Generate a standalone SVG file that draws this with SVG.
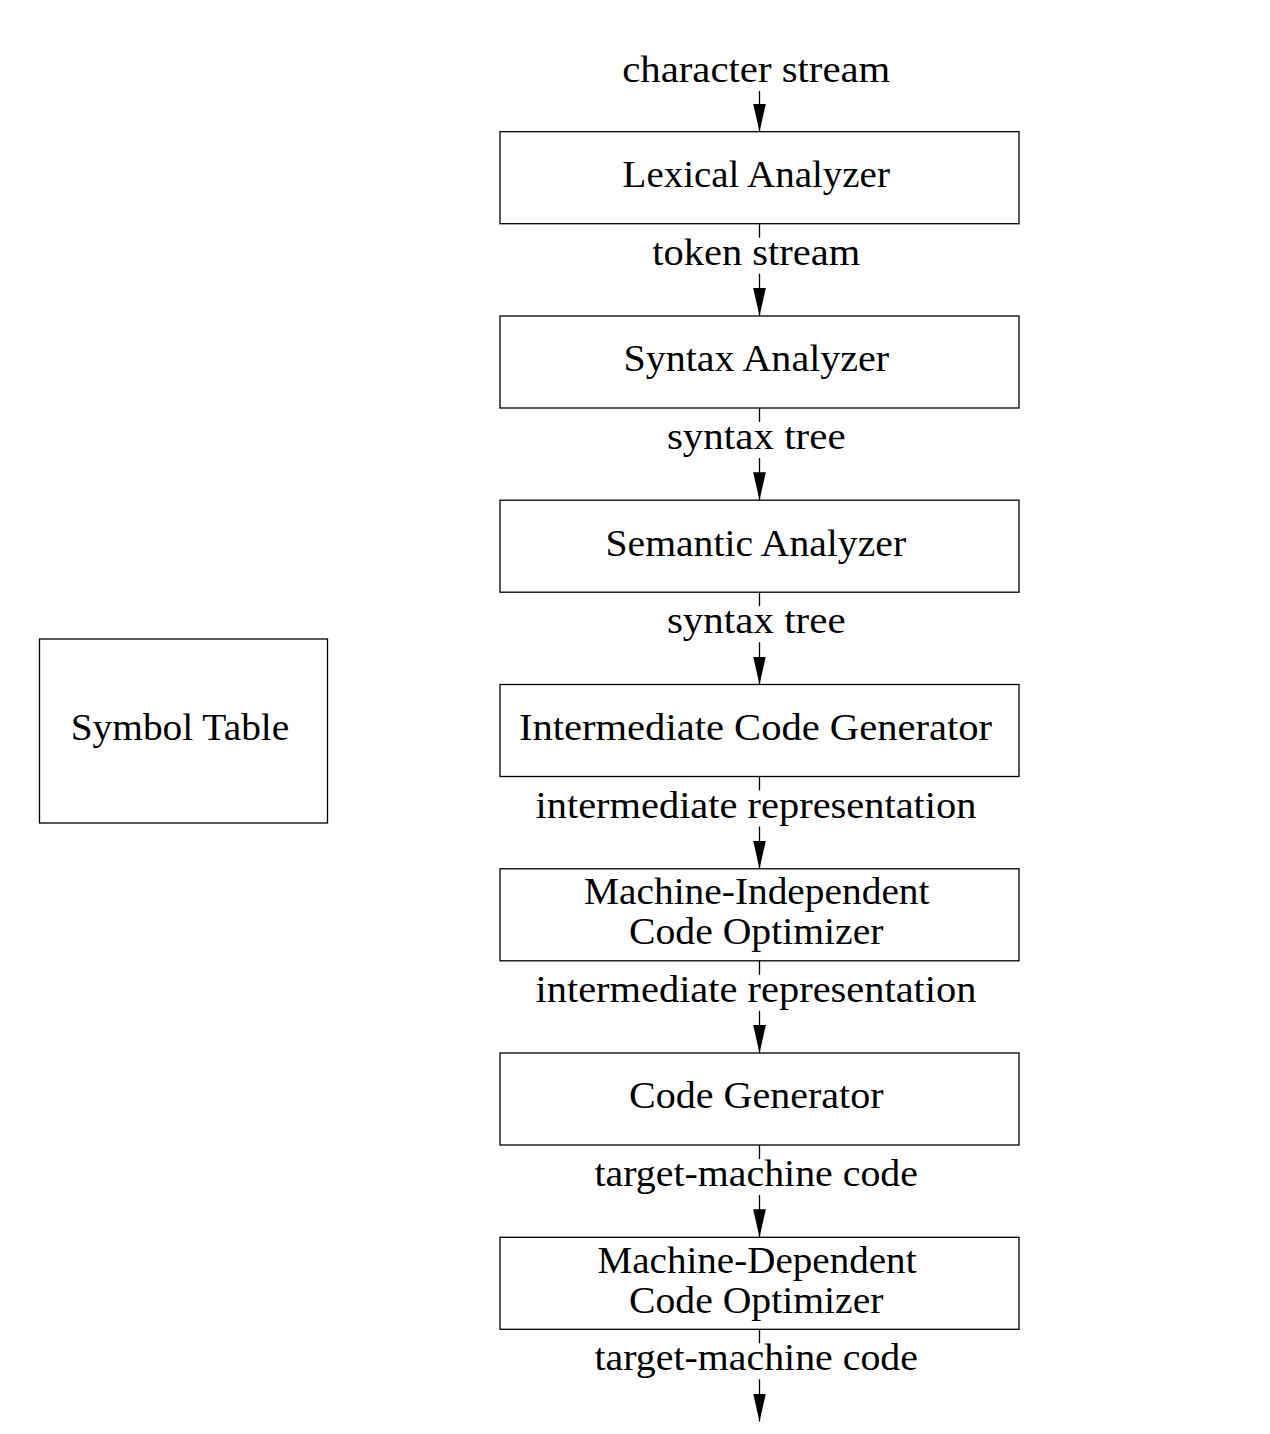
<svg xmlns="http://www.w3.org/2000/svg" width="1270" height="1434" viewBox="0 0 1270 1434">
<style>
.box{fill:#fff;stroke:#000;stroke-width:1.3}
.t{font-family:"Liberation Serif","Times New Roman",serif;font-size:37px;fill:#000}
.c{stroke:#000;stroke-width:1.3;fill:none}
</style>
<defs>
<marker id="ah" markerUnits="userSpaceOnUse" markerWidth="28" markerHeight="13" refX="28" refY="6.35" orient="auto" viewBox="0 0 28 12.7">
<path d="M0,0 L28,6.35 L0,12.7 z" fill="#000"/>
</marker>
</defs>
<rect width="1270" height="1434" fill="#fff"/>

<g id="connectors">
<line class="c" x1="759.5" y1="91" x2="759.5" y2="131.7" marker-end="url(#ah)"/>
<line class="c" x1="759.5" y1="223.7" x2="759.5" y2="237.7"/>
<line class="c" x1="759.5" y1="273.7" x2="759.5" y2="316" marker-end="url(#ah)"/>
<line class="c" x1="759.5" y1="408" x2="759.5" y2="422"/>
<line class="c" x1="759.5" y1="458" x2="759.5" y2="500.2" marker-end="url(#ah)"/>
<line class="c" x1="759.5" y1="592.2" x2="759.5" y2="606.2"/>
<line class="c" x1="759.5" y1="642.2" x2="759.5" y2="684.5" marker-end="url(#ah)"/>
<line class="c" x1="759.5" y1="776.5" x2="759.5" y2="790.5"/>
<line class="c" x1="759.5" y1="826.5" x2="759.5" y2="868.8" marker-end="url(#ah)"/>
<line class="c" x1="759.5" y1="960.8" x2="759.5" y2="974.8"/>
<line class="c" x1="759.5" y1="1010.8" x2="759.5" y2="1053" marker-end="url(#ah)"/>
<line class="c" x1="759.5" y1="1145" x2="759.5" y2="1159"/>
<line class="c" x1="759.5" y1="1195" x2="759.5" y2="1237.3" marker-end="url(#ah)"/>
<line class="c" x1="759.5" y1="1329.3" x2="759.5" y2="1343.3"/>
<line class="c" x1="759.5" y1="1379.3" x2="759.5" y2="1421.5" marker-end="url(#ah)"/>
<text class="t" x="622.2" y="82" textLength="268.1" lengthAdjust="spacingAndGlyphs">character stream</text>
<text class="t" x="652.2" y="264.7" textLength="208.1" lengthAdjust="spacingAndGlyphs">token stream</text>
<text class="t" x="666.9" y="449" textLength="178.7" lengthAdjust="spacingAndGlyphs">syntax tree</text>
<text class="t" x="666.9" y="633.2" textLength="178.7" lengthAdjust="spacingAndGlyphs">syntax tree</text>
<text class="t" x="535.5" y="817.5" textLength="441" lengthAdjust="spacingAndGlyphs">intermediate representation</text>
<text class="t" x="535.5" y="1001.8" textLength="441" lengthAdjust="spacingAndGlyphs">intermediate representation</text>
<text class="t" x="594.5" y="1186" textLength="323.5" lengthAdjust="spacingAndGlyphs">target-machine code</text>
<text class="t" x="594.5" y="1370.3" textLength="323.5" lengthAdjust="spacingAndGlyphs">target-machine code</text>
</g>

<g id="lexical">
<rect class="box" x="500" y="131.7" width="519" height="92"/>
<text class="t" x="622.6" y="187" textLength="267.3" lengthAdjust="spacingAndGlyphs">Lexical Analyzer</text>
</g>
<g id="syntax">
<rect class="box" x="500" y="316" width="519" height="92"/>
<text class="t" x="623.4" y="371.3" textLength="265.8" lengthAdjust="spacingAndGlyphs">Syntax Analyzer</text>
</g>
<g id="semantic">
<rect class="box" x="500" y="500.2" width="519" height="92"/>
<text class="t" x="605.5" y="555.5" textLength="300.6" lengthAdjust="spacingAndGlyphs">Semantic Analyzer</text>
</g>
<g id="icg">
<rect class="box" x="500" y="684.5" width="519" height="92"/>
<text class="t" x="519" y="739.8" textLength="473" lengthAdjust="spacingAndGlyphs">Intermediate Code Generator</text>
</g>
<g id="mico">
<rect class="box" x="500" y="868.8" width="519" height="92"/>
<text class="t" x="584" y="904.2" textLength="345.5" lengthAdjust="spacingAndGlyphs">Machine-Independent</text>
<text class="t" x="629" y="944.2" textLength="254.5" lengthAdjust="spacingAndGlyphs">Code Optimizer</text>
</g>
<g id="codegen">
<rect class="box" x="500" y="1053" width="519" height="92"/>
<text class="t" x="629" y="1108.3" textLength="254.5" lengthAdjust="spacingAndGlyphs">Code Generator</text>
</g>
<g id="mdco">
<rect class="box" x="500" y="1237.3" width="519" height="92"/>
<text class="t" x="597.5" y="1272.7" textLength="319" lengthAdjust="spacingAndGlyphs">Machine-Dependent</text>
<text class="t" x="629" y="1312.7" textLength="254.5" lengthAdjust="spacingAndGlyphs">Code Optimizer</text>
</g>
<g id="symtab">
<rect class="box" x="39.5" y="639" width="288" height="184"/>
<text class="t" x="70.7" y="740.3" textLength="218.6" lengthAdjust="spacingAndGlyphs">Symbol Table</text>
</g>
</svg>
